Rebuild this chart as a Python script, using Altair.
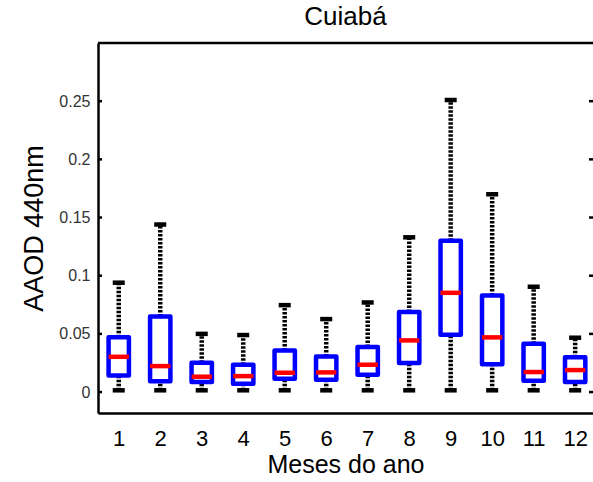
import altair as alt
import pandas as pd

# Data
months = [1, 2, 3, 4, 5, 6, 7, 8, 9, 10, 11, 12]
lower = [0.0015, 0.0015, 0.0015, 0.0015, 0.0015, 0.0015, 0.0015, 0.0015, 0.0015, 0.0015, 0.0015, 0.0015]
q1 = [0.0143, 0.0092, 0.0086, 0.0072, 0.0115, 0.0106, 0.0149, 0.0249, 0.0492, 0.0240, 0.0097, 0.0086]
median = [0.0303, 0.0223, 0.0132, 0.0137, 0.0166, 0.0169, 0.0235, 0.0444, 0.0853, 0.0470, 0.0172, 0.0189]
q3 = [0.0470, 0.0650, 0.0252, 0.0235, 0.0358, 0.0306, 0.0387, 0.0687, 0.1300, 0.0830, 0.0415, 0.0300]
upper = [0.094, 0.144, 0.050, 0.049, 0.0747, 0.0627, 0.077, 0.133, 0.251, 0.170, 0.0905, 0.0467]
y_ticks = [0, 0.05, 0.1, 0.15, 0.2, 0.25]

df = pd.DataFrame({"month": months, "lower": lower, "q1": q1, "median": median,
                   "q3": q3, "upper": upper})
ticks_df = pd.DataFrame({"t": y_ticks})
frame_df = pd.DataFrame({"a": [0]})

W, H = 495, 370
FONT = "Liberation Sans"
xs = alt.Scale(domain=[0.5, 12.43], nice=False, zero=False)
ys = alt.Scale(domain=[-0.018, 0.3], nice=False, zero=False)

x_axis = alt.Axis(values=months, format="d", title="Meses do ano", labelFontSize=22,
                  titleFontSize=25, labelFont=FONT, titleFont=FONT, ticks=False, tickSize=0,
                  labelPadding=15, titlePadding=3, grid=False, domainColor="black",
                  domainWidth=2.5, labelColor="black", titleColor="black",
                  titleFontWeight="normal", labelFlush=False)
y_axis = alt.Axis(values=y_ticks, format="~g", title="AAOD 440nm", labelFontSize=16,
                  titleFontSize=27, labelFont=FONT, titleFont=FONT, ticks=False, tickSize=0,
                  labelPadding=8, titlePadding=10, grid=False, domainColor="black",
                  domainWidth=2.5, labelColor="#333333", titleColor="black",
                  titleFontWeight="normal", labelFlush=False)


def X(f):
    return alt.X(f, scale=xs, axis=x_axis, title="Meses do ano")


def Y(f):
    return alt.Y(f, scale=ys, axis=y_axis, title="AAOD 440nm")


base = alt.Chart(df)

whisk_hi = base.mark_rule(color="black", strokeWidth=4.5, strokeDash=[2.5, 1.5]).encode(
    x=X("month:Q"), y=Y("q3:Q"), y2="upper:Q",
)
whisk_lo = base.mark_rule(color="black", strokeWidth=4.5, strokeDash=[2.5, 1.5]).encode(
    x=X("month:Q"), y=Y("lower:Q"), y2="q1:Q",
)
cap_hi = base.transform_calculate(a="datum.month - 0.145", b="datum.month + 0.145").mark_rule(
    color="black", strokeWidth=4.5).encode(
    x=X("a:Q"), x2="b:Q", y=Y("upper:Q"),
)
cap_lo = base.transform_calculate(a="datum.month - 0.145", b="datum.month + 0.145").mark_rule(
    color="black", strokeWidth=4.5).encode(
    x=X("a:Q"), x2="b:Q", y=Y("lower:Q"),
)
box = base.transform_calculate(a="datum.month - 0.245", b="datum.month + 0.245").mark_rect(
    fill="white", stroke="#0000ff", strokeWidth=4.5, strokeJoin="round").encode(
    x=X("a:Q"), x2="b:Q", y=Y("q1:Q"), y2="q3:Q",
)
med = base.transform_calculate(a="datum.month - 0.245", b="datum.month + 0.245").mark_rule(
    color="#ff0000", strokeWidth=4.5).encode(
    x=X("a:Q"), x2="b:Q", y=Y("median:Q"),
)
tick_l = alt.Chart(ticks_df).mark_rule(color="black", strokeWidth=2.5).encode(
    x=alt.value(0), x2=alt.value(4), y=Y("t:Q"),
)
tick_r = alt.Chart(ticks_df).mark_rule(color="black", strokeWidth=2.5).encode(
    x=alt.value(W - 4), x2=alt.value(W), y=Y("t:Q"),
)
top_frame = alt.Chart(frame_df).mark_rule(color="black", strokeWidth=2.5).encode(
    x=alt.value(0), x2=alt.value(W), y=alt.value(0),
)

chart = alt.layer(whisk_hi, whisk_lo, box, med, cap_hi, cap_lo, tick_l, tick_r, top_frame).properties(
    width=W, height=H,
    title=alt.TitleParams("Cuiabá", fontSize=26, font=FONT, fontWeight="normal",
                          color="black", anchor="middle", offset=12),
    autosize=alt.AutoSizeParams(type="none"),
    padding={"left": 98, "top": 43, "right": 0, "bottom": 69},
    background="white",
).configure_view(stroke=None)

chart.save("out.html", embed_options={"renderer": "svg", "actions": False})
